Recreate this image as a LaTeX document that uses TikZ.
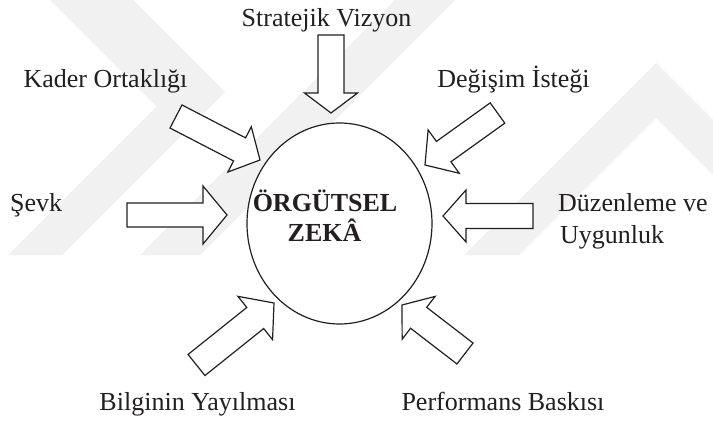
\documentclass[tikz,border=0pt]{standalone}
\usepackage{fontspec}
\setmainfont{Liberation Serif}
\usetikzlibrary{calc}

\definecolor{ink}{RGB}{35,31,32}
\definecolor{mark}{RGB}{241,241,241}

% block arrow: #1 name, #2 tail, #3 tip, #4 shaft half-width, #5 head half-width, #6 head length
\newcommand\sbarrow[6]{%
  \coordinate (#1-tail) at #2;
  \coordinate (#1-tip) at #3;
  \coordinate (#1-base) at ($(#1-tip)!#6!(#1-tail)$);
  \draw[blockarrow]
    ($(#1-tail)!#4!90:(#1-tip)$) -- ($(#1-base)!#4!90:(#1-tip)$) --
    ($(#1-base)!#5!90:(#1-tip)$) -- (#1-tip) --
    ($(#1-base)!#5!-90:(#1-tip)$) -- ($(#1-base)!#4!-90:(#1-tip)$) --
    ($(#1-tail)!#4!-90:(#1-tip)$) -- cycle;
}

\tikzset{
  blockarrow/.style={draw=ink, line width=1.2pt, fill=white, line join=miter},
  label/.style={text=ink, font=\fontsize{26}{31}\selectfont, inner sep=0pt},
  core/.style={text=ink, font=\fontsize{26}{31}\selectfont\bfseries, inner sep=0pt},
  band/.style={fill=mark, draw=none},
}

\begin{document}
\begin{tikzpicture}[x=1pt,y=1pt]
  \useasboundingbox (0,0) rectangle (713,424);
  \fill[white] (0,0) rectangle (713,424);

  % faint background emblem
  \begin{scope}
    \clip (0,0) rectangle (713,424);
    \fill[band] (50,424) -- (133,424) -- (225,332) -- (62,169) -- (8,169) -- (156.5,317.5) -- cycle;
    \fill[band] (140,169) -- (200,169) -- (455,424) -- (395,424) -- cycle;
    \fill[band] (464,169) -- (656,361) -- (713,304) -- (713,249) -- (656,306) -- (519,169) -- cycle;
  \end{scope}

  % central ellipse
  \draw[ink, line width=1.2pt, fill=white] (339.5,200.5) ellipse [x radius=92.5, y radius=100.5];
  \coordinate (core) at (339.5,200.5);
  \node[core, anchor=base] (title1) at (325,212) {ÖRGÜTSEL};
  \node[core, anchor=base] (title2) at (324.5,183) {ZEKÂ};

  % incoming block arrows
  \sbarrow{strat}{(331,389)}{(331,311)}{13pt}{26.5pt}{20pt}
  \sbarrow{sevk}{(127,209)}{(227,209)}{12pt}{29pt}{24pt}
  \sbarrow{duzen}{(533,208)}{(443,208)}{12.5pt}{26pt}{23pt}
  \sbarrow{kader}{(176,307.5)}{(260,264)}{13pt}{25.5pt}{23pt}
  \sbarrow{degis}{(497.5,311)}{(425,259)}{12.5pt}{26.7pt}{23pt}
  \sbarrow{bilgi}{(196.5,59)}{(274,121)}{13.5pt}{27.7pt}{24pt}
  \sbarrow{perf}{(465,70.5)}{(402,119)}{13.2pt}{27pt}{21pt}

  % labels
  \node[label, anchor=base] (lstrat) at (326.5,397) {Stratejik Vizyon};
  \node[label, anchor=base] (lkader) at (105.5,336) {Kader Ortaklığı};
  \node[label, anchor=base] (ldegis) at (513.5,336) {Değişim İsteği};
  \node[label, anchor=base west] (lsevk) at (10,212) {Şevk};
  \node[label, anchor=base west] (lduzen) at (558,212) {Düzenleme ve};
  \node[label, anchor=base west] (luygun) at (560,181) {Uygunluk};
  \node[label, anchor=base] (lbilgi) at (197.5,14) {Bilginin Yayılması};
  \node[label, anchor=base] (lperf) at (503,14) {Performans Baskısı};
\end{tikzpicture}
\end{document}
